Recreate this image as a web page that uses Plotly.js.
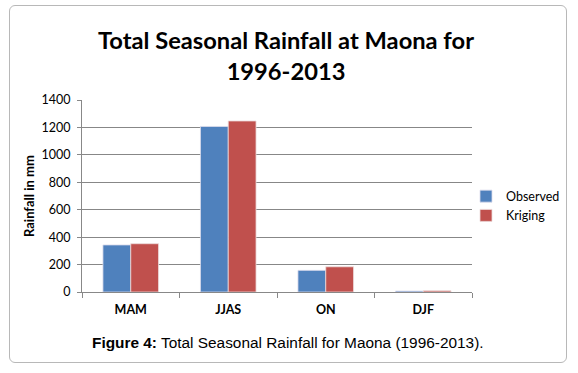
<!DOCTYPE html>
<html>
<head>
<meta charset="utf-8">
<script src="https://cdn.plot.ly/plotly-3.0.1.min.js"></script>
<style>
html,body{margin:0;padding:0;background:#fff;}
#wrap{position:relative;width:578px;height:373px;}
#box{position:absolute;left:9px;top:5px;width:556px;height:356px;border:1.5px solid #b8b8b8;border-radius:6px;}
#chart{position:absolute;left:0;top:0;width:578px;height:373px;}
</style>
</head>
<body>
<div id="wrap"><div id="box"></div><div id="chart"></div></div>
<script>
var categories = ["MAM", "JJAS", "ON", "DJF"];
var observed = [343, 1207, 158, 7];
var kriging = [352, 1247, 184, 9];
var seriesNames = ["Observed", "Kriging"];
var yTicks = [0, 200, 400, 600, 800, 1000, 1200, 1400];

var F = "Lato, 'Open Sans', sans-serif";
var traces = [
  {type:"bar", name:seriesNames[0], x:categories, y:observed,
   marker:{color:"#4F81BD", line:{color:"#dcdcec", width:0.8}}},
  {type:"bar", name:seriesNames[1], x:categories, y:kriging,
   marker:{color:"#C0504D", line:{color:"#ecdcdc", width:0.8}}}
];
var layout = {
  width:578, height:373,
  paper_bgcolor:"rgba(0,0,0,0)", plot_bgcolor:"rgba(0,0,0,0)",
  margin:{l:82, r:106, t:100, b:81},
  barmode:"group", bargap:0.43, bargroupgap:0,
  font:{family:F, color:"#000", size:12},
  title:{text:"<b>Total Seasonal Rainfall at Maona for<br>1996-2013</b>",
         font:{family:F, size:23.7, color:"#000"}, x:286/578, xref:"container", xanchor:"center",
         y:1-49/373, yref:"container", yanchor:"middle"},
  xaxis:{type:"category", showgrid:false, showline:true, linecolor:"#888", linewidth:1,
         ticks:"outside", tickson:"boundaries", ticklen:5, tickcolor:"#888", ticklabelstandoff:6,
         tickfont:{family:F, size:12.5, color:"#000", weight:"bold"}, fixedrange:true},
  yaxis:{range:[0,1400], tickvals:yTicks, showgrid:true, gridcolor:"#878787", gridwidth:1,
         showline:true, linecolor:"#888", linewidth:1, ticks:"outside", ticklen:4, tickcolor:"#888",
         ticklabelstandoff:4,
         tickfont:{family:F, size:12.5, color:"#000"}, zeroline:false, fixedrange:true},
  legend:{x:(466-82)/390, xref:"paper", y:(292-206)/192, yref:"paper", xanchor:"left", yanchor:"middle",
          font:{family:F, size:12.5, color:"#000"}, itemwidth:30, bgcolor:"rgba(0,0,0,0)"},
  annotations:[
    {text:"<b>Rainfall in mm</b>", textangle:-90, xref:"paper", yref:"paper",
     x:(29-82)/390, y:0.5, xanchor:"center", yanchor:"middle", showarrow:false,
     font:{family:F, size:13, color:"#000"}},
    {text:"<b>Figure 4:</b> Total Seasonal Rainfall for Maona (1996-2013).", xref:"paper", yref:"paper",
     x:(288-82)/390, y:-(342-292)/192, xanchor:"center", yanchor:"middle", showarrow:false,
     font:{family:"'Liberation Sans', Arial, sans-serif", size:15.4, color:"#000"}}
  ]
};
Plotly.newPlot("chart", traces, layout, {displayModeBar:false, staticPlot:true});
</script>
</body>
</html>
